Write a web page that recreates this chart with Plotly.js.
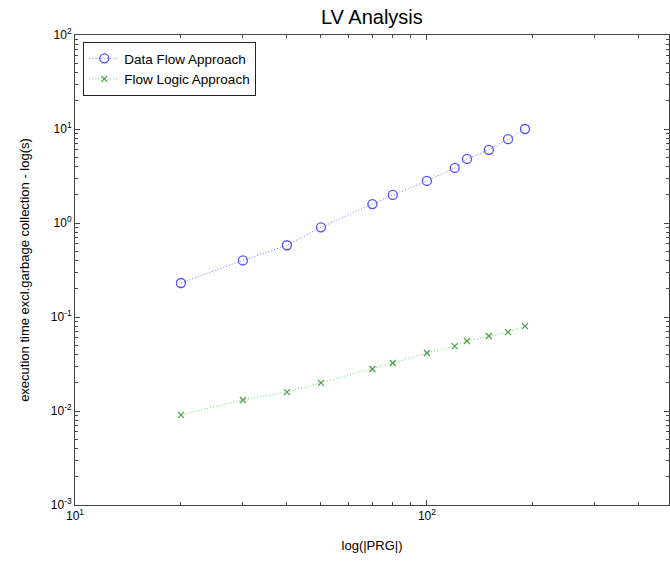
<!DOCTYPE html>
<html>
<head>
<meta charset="utf-8">
<script src="https://cdn.plot.ly/plotly-3.0.1.min.js"></script>
<style>html,body{margin:0;padding:0;background:#fff;overflow:hidden}</style>
</head>
<body>
<div id="chart" style="width:670px;height:563px"></div>
<script>
const prgSize = [20, 30, 40, 50, 70, 80, 100, 120, 130, 150, 170, 190];
const dataFlowTime = [0.23, 0.40, 0.58, 0.90, 1.59, 1.99, 2.8, 3.85, 4.8, 6.0, 7.8, 10.0];
const flowLogicTime = [0.0091, 0.0131, 0.0159, 0.0199, 0.028, 0.0324, 0.0414, 0.049, 0.0556, 0.0628, 0.069, 0.080];
const seriesNames = ["Data Flow Approach", "Flow Logic Approach"];

const xMajor = [10, 100];
const xMajorText = ["10<sup>1</sup>", "10<sup>2</sup>"];
const xMinor = [20, 30, 40, 50, 60, 70, 80, 90, 200, 300, 400];
const yMajor = [0.001, 0.01, 0.1, 1, 10, 100];
const yMajorText = ["10<sup>-3</sup>", "10<sup>-2</sup>", "10<sup>-1</sup>", "10<sup>0</sup>", "10<sup>1</sup>", "10<sup>2</sup>"];
const yMinor = [];
for (let e = -3; e < 2; e++) for (let d = 2; d <= 9; d++) yMinor.push(d * Math.pow(10, e));

const traces = [
  {
    x: prgSize, y: dataFlowTime, name: seriesNames[0], type: 'scatter', mode: 'lines+markers',
    line: {color: 'rgb(120,120,255)', width: 1, dash: '1px,2px'},
    marker: {symbol: 'circle-open', size: 9, color: 'rgb(80,80,255)', line: {width: 1.3}}
  },
  {
    x: prgSize, y: flowLogicTime, name: seriesNames[1], type: 'scatter', mode: 'lines+markers',
    line: {color: 'rgb(120,200,120)', width: 1, dash: '1px,2px'},
    marker: {symbol: 'x-thin-open', size: 6, color: 'rgb(70,160,70)', line: {width: 1.2, color: 'rgb(70,160,70)'}}
  }
];

const axisCommon = {
  type: 'log', showgrid: false, zeroline: false,
  showline: true, linecolor: '#444', linewidth: 1, mirror: 'ticks',
  ticks: 'inside', ticklen: 5, tickcolor: '#444', tickwidth: 1,
  tickfont: {family: 'Liberation Sans, Arial, sans-serif', size: 12, color: '#000'},
  tickmode: 'array'
};

const layout = {
  width: 670, height: 563,
  margin: {l: 75, r: 1, t: 35, b: 58},
  paper_bgcolor: '#fff', plot_bgcolor: '#fff',
  font: {family: 'Liberation Sans, Arial, sans-serif', color: '#000'},
  title: {text: 'LV Analysis', font: {size: 20, color: '#000'}, x: 0.555, xanchor: 'center', y: 0.983, yanchor: 'top'},
  showlegend: true,
  legend: {
    x: 0.014, y: 0.985, xanchor: 'left', yanchor: 'top',
    bgcolor: '#fff', bordercolor: '#222', borderwidth: 1,
    font: {size: 13.5, color: '#000'}, tracegroupgap: 0, itemwidth: 30
  },
  xaxis: Object.assign({}, axisCommon, {
    range: [1, 2.688],
    tickvals: xMajor, ticktext: xMajorText,
    minor: {tickmode: 'array', tickvals: xMinor, ticks: 'inside', ticklen: 3, tickcolor: '#444'},
    title: {text: 'log(|PRG|)', font: {size: 13, color: '#000'}, standoff: 18}
  }),
  yaxis: Object.assign({}, axisCommon, {
    range: [-3, 2],
    tickvals: yMajor, ticktext: yMajorText,
    minor: {tickmode: 'array', tickvals: yMinor, ticks: 'inside', ticklen: 3, tickcolor: '#444'},
    title: {text: 'execution time excl.garbage collection - log(s)', font: {size: 13, color: '#000'}, standoff: 18}
  })
};

Plotly.newPlot('chart', traces, layout, {displayModeBar: false, staticPlot: true});
</script>
</body>
</html>
